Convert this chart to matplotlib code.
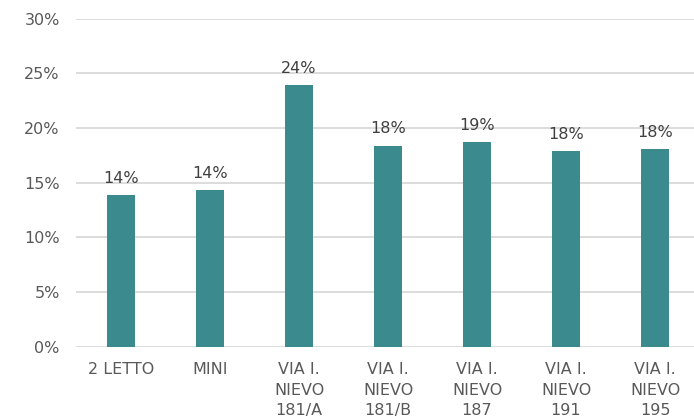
import matplotlib
matplotlib.use("Agg")
import matplotlib.pyplot as plt
from matplotlib.ticker import PercentFormatter

categories = ["2 LETTO", "MINI", "VIA I.\nNIEVO\n181/A", "VIA I.\nNIEVO\n181/B",
              "VIA I.\nNIEVO\n187", "VIA I.\nNIEVO\n191", "VIA I.\nNIEVO\n195"]
values = [0.139, 0.143, 0.239, 0.184, 0.187, 0.179, 0.181]
labels = ["14%", "14%", "24%", "18%", "19%", "18%", "18%"]
yticks = [0, 0.05, 0.10, 0.15, 0.20, 0.25, 0.30]

plt.rcParams['font.family'] = ['DejaVu Sans']
fig = plt.figure(figsize=(6.94, 4.16), dpi=100)
ax = fig.add_axes([0.1102, 0.166, 1.008 - 0.1102, 0.9555 - 0.166])

x = list(range(len(categories)))
bars = ax.bar(x, values, width=0.31, color="#3b8a8e", zorder=3)
for xi, v, lab in zip(x, values, labels):
    ax.annotate(lab, (xi, v), xytext=(0, 6.5), textcoords="offset points",
                ha="center", va="bottom", fontsize=11.5, color="#404040")

ax.set_xlim(-0.5, len(categories) - 0.5)
ax.set_ylim(0, 0.30)
ax.set_yticks(yticks)
ax.yaxis.set_major_formatter(PercentFormatter(1.0, decimals=0))
ax.set_xticks(x)
ax.set_xticklabels(categories, linespacing=1.45)
ax.tick_params(axis="y", length=0, pad=12, labelsize=11.5, labelcolor="#595959")
ax.tick_params(axis="x", length=0, pad=11, labelsize=11.5, labelcolor="#595959")
ax.grid(axis="y", color="#d9d9d9", linewidth=1.3, zorder=0)
for s in ax.spines.values():
    s.set_visible(False)

fig.savefig("out.png", dpi=100)
